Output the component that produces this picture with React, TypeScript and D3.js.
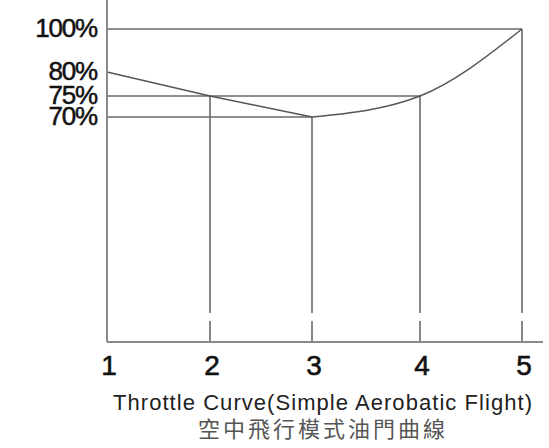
import React from "react";
import * as d3 from "d3";

const points = [1, 2, 3, 4, 5];
const throttle = [80, 75, 70, 75, 100];
const yTickValues = [100, 80, 75, 70];
const yTickLabels = ["100%", "80%", "75%", "70%"];
const titleEn = "Throttle Curve(Simple Aerobatic Flight)";
const titleZh = "空中飛行模式油門曲線";

export default function App() {
  const W = 549, H = 448;
  const x = d3.scaleLinear().domain([1, 2, 3, 4, 5]).range([107, 210, 312, 420, 522]);
  // schematic (non-uniform) vertical scale as in the original figure
  const y = d3.scaleLinear().domain([0, 70, 75, 80, 100]).range([342, 117, 96, 72, 29]);

  const data = points.map((p, i) => ({ p, v: throttle[i] }));
  const lineA = d3.line<any>().x(d => x(d.p)).y(d => y(d.v)).curve(d3.curveLinear);
  const lineB = d3.line<any>().x(d => x(d.p)).y(d => y(d.v)).curve(d3.curveMonotoneX);

  const guides = Array.from(d3.rollup(data.slice(1), g => d3.max(g, d => d.p) as number, d => d.v));

  const gray = "#6a6a6a";
  const gapTop = 313, gapBot = 321;
  const base = y(0);
  const font = "Liberation Sans, Arial, sans-serif";

  return (
    <svg width={W} height={H} style={{ position: "absolute", left: 0, top: 0, background: "#fff" }}>
      {guides.map(([v, p], i) => (
        <line key={"h" + i} x1={x(1)} x2={x(p)} y1={y(v)} y2={y(v)} stroke={gray} strokeWidth={1.6} />
      ))}
      {data.filter(d => d.p > 1).map((d, i) => (
        <g key={"v" + i}>
          <line x1={x(d.p)} x2={x(d.p)} y1={y(d.v)} y2={gapTop} stroke={gray} strokeWidth={1.6} />
          <line x1={x(d.p)} x2={x(d.p)} y1={gapBot} y2={base} stroke={gray} strokeWidth={1.6} />
        </g>
      ))}
      <path d={lineA(data.slice(0, 3)) || ""} fill="none" stroke="#555" strokeWidth={1.4} />
      <path d={lineB(data.slice(2)) || ""} fill="none" stroke="#555" strokeWidth={1.4} />
      <line x1={x(1)} x2={x(1)} y1={0} y2={base} stroke="#8a8a8a" strokeWidth={2} />
      <line x1={x(1)} x2={543} y1={base} y2={base} stroke="#8a8a8a" strokeWidth={2} />
      {yTickValues.map((v, i) => (
        <text key={"yl" + i} x={97} y={y(v) - 1} dy="0.36em" textAnchor="end"
          fontFamily={font} fontSize={26} letterSpacing={-1.2} fill="#111" stroke="#111" strokeWidth={0.5}>
          {yTickLabels[i]}
        </text>
      ))}
      {points.map((p, i) => (
        <text key={"xl" + i} x={x(p) + 2} y={365} dy="0.36em" textAnchor="middle"
          fontFamily={font} fontSize={28} fill="#111" stroke="#111" strokeWidth={0.6}>
          {p}
        </text>
      ))}
      <text x={113} y={410} textLength={419} lengthAdjust="spacing" fontFamily={font}
        fontSize={22} fill="#222">{titleEn}</text>
      <text x={198} y={437} textLength={247} lengthAdjust="spacing" fontFamily="Noto Sans CJK TC, sans-serif"
        fontSize={22} fill="#555">{titleZh}</text>
    </svg>
  );
}
